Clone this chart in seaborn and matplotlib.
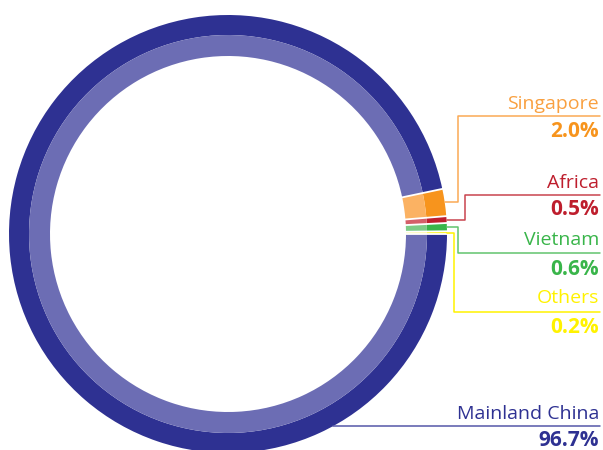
import numpy as np
import seaborn as sns
import matplotlib.pyplot as plt

# shares, counter-clockwise from 3 o'clock
regions = ['Others', 'Vietnam', 'Africa', 'Singapore', 'Mainland China']
shares = [0.2, 0.6, 0.5, 2.0, 96.7]
labels = ['0.2%', '0.6%', '0.5%', '2.0%', '96.7%']

dark = ['#FFF200', '#39B54A', '#BE1E2D', '#F7941D', '#2E3192']
light = ['#FFF685', '#7DCB86', '#D45F69', '#FBB263', '#6C6DB4']
line_col = ['#FFF200', '#62C46E', '#C9444E', '#FBAA55', '#5557A8']
name_col = ['#FFF200', '#39B54A', '#BE1E2D', '#F9A040', '#2E3192']

sns.set_theme(style='white')
plt.rcParams['font.family'] = ['Open Sans', 'DejaVu Sans']

H = 450
cx, cy, R = 228, H - 234, 219

fig = plt.figure(figsize=(6.03, 4.5), dpi=100)
ax = fig.add_axes([0, 0, 1, 1])

ax.pie(shares, colors=dark, radius=R, center=(cx, cy), startangle=0,
       counterclock=True, wedgeprops=dict(width=20, linewidth=0))
ax.pie(shares, colors=light, radius=R - 20, center=(cx, cy), startangle=0,
       counterclock=True, wedgeprops=dict(width=21, linewidth=0))

# white gaps between slices
bounds = np.concatenate([[0], np.cumsum(shares)]) / 100 * 360
for b in bounds[:-1]:
    t = np.deg2rad(b)
    ax.plot([cx + 170 * np.cos(t), cx + 226 * np.cos(t)],
            [cy + 170 * np.sin(t), cy + 226 * np.sin(t)],
            color='white', lw=1.3, solid_capstyle='butt')

mids = (bounds[:-1] + bounds[1:]) / 2

# connector elbows / label rows (pixel rows from the top)
elbow_x = [454, 458, 465, 458]
row_y = [312, 253, 195, 116]
name_y = [303, 245, 188, 109]
val_y = [333, 275, 215, 137]
x_end = 600

for i in range(4):
    t = np.deg2rad(mids[i])
    x0, y0 = cx + R * np.cos(t), cy + R * np.sin(t)
    ax.plot([x0, elbow_x[i], elbow_x[i], x_end],
            [y0, y0, H - row_y[i], H - row_y[i]],
            color=line_col[i], lw=1.1)
    ax.text(599, H - name_y[i], regions[i], color=name_col[i], fontsize=14,
            ha='right', va='baseline')
    ax.text(599, H - val_y[i], labels[i], color=dark[i], fontsize=15,
            fontweight='bold', ha='right', va='baseline')

# Mainland China label
yl = H - 426
x0 = cx + np.sqrt(R ** 2 - (cy - yl) ** 2)
ax.plot([x0, x_end], [yl, yl], color=line_col[4], lw=1.1)
ax.text(599, H - 419, regions[4], color=name_col[4], fontsize=14,
        ha='right', va='baseline')
ax.text(599, H - 446, labels[4], color=dark[4], fontsize=15,
        fontweight='bold', ha='right', va='baseline')

ax.set_xlim(0, 603)
ax.set_ylim(0, H)
ax.set_aspect('equal')
ax.axis('off')

fig.savefig('out.png', dpi=100, facecolor='white')
